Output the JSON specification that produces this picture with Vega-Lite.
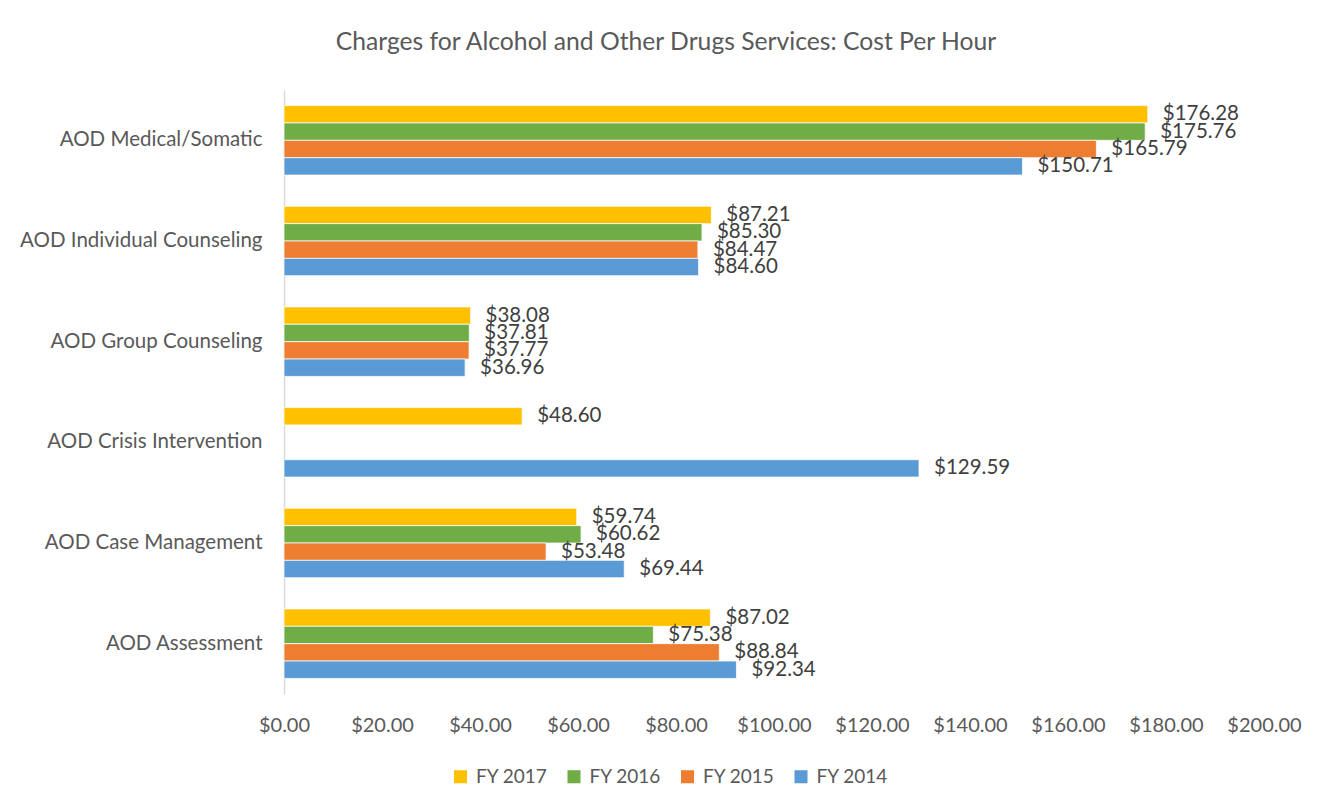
{
  "$schema": "https://vega.github.io/schema/vega-lite/v6.json",
  "width": 980,
  "height": 604,
  "autosize": "none",
  "padding": {"left": 284, "top": 90, "right": 71, "bottom": 118},
  "background": "white",
  "title": {
    "text": "Charges for Alcohol and Other Drugs Services: Cost Per Hour",
    "anchor": "middle",
    "frame": "group",
    "dx": -108,
    "offset": 35,
    "font": "Lato",
    "fontSize": 24.7,
    "fontWeight": "normal",
    "color": "#595959"
  },
  "config": {
    "view": {"stroke": null},
    "font": "Lato"
  },
  "data": {
    "values": [
      {"service": "AOD Medical/Somatic", "year": "FY 2017", "cost": 176.28},
      {"service": "AOD Medical/Somatic", "year": "FY 2016", "cost": 175.76},
      {"service": "AOD Medical/Somatic", "year": "FY 2015", "cost": 165.79},
      {"service": "AOD Medical/Somatic", "year": "FY 2014", "cost": 150.71},
      {"service": "AOD Individual Counseling", "year": "FY 2017", "cost": 87.21},
      {"service": "AOD Individual Counseling", "year": "FY 2016", "cost": 85.30},
      {"service": "AOD Individual Counseling", "year": "FY 2015", "cost": 84.47},
      {"service": "AOD Individual Counseling", "year": "FY 2014", "cost": 84.60},
      {"service": "AOD Group Counseling", "year": "FY 2017", "cost": 38.08},
      {"service": "AOD Group Counseling", "year": "FY 2016", "cost": 37.81},
      {"service": "AOD Group Counseling", "year": "FY 2015", "cost": 37.77},
      {"service": "AOD Group Counseling", "year": "FY 2014", "cost": 36.96},
      {"service": "AOD Crisis Intervention", "year": "FY 2017", "cost": 48.60},
      {"service": "AOD Crisis Intervention", "year": "FY 2014", "cost": 129.59},
      {"service": "AOD Case Management", "year": "FY 2017", "cost": 59.74},
      {"service": "AOD Case Management", "year": "FY 2016", "cost": 60.62},
      {"service": "AOD Case Management", "year": "FY 2015", "cost": 53.48},
      {"service": "AOD Case Management", "year": "FY 2014", "cost": 69.44},
      {"service": "AOD Assessment", "year": "FY 2017", "cost": 87.02},
      {"service": "AOD Assessment", "year": "FY 2016", "cost": 75.38},
      {"service": "AOD Assessment", "year": "FY 2015", "cost": 88.84},
      {"service": "AOD Assessment", "year": "FY 2014", "cost": 92.34}
    ]
  },
  "encoding": {
    "y": {
      "field": "service",
      "type": "nominal",
      "sort": ["AOD Medical/Somatic", "AOD Individual Counseling", "AOD Group Counseling", "AOD Crisis Intervention", "AOD Case Management", "AOD Assessment"],
      "scale": {"paddingInner": 0.31, "paddingOuter": 0.155},
      "axis": {
        "title": null,
        "ticks": false,
        "domain": true,
        "domainColor": "#d9d9d9",
        "domainWidth": 1.5,
        "labelFontSize": 20.5,
        "labelColor": "#595959",
        "labelPadding": 22,
        "labelLimit": 0,
        "labelFont": "Lato"
      }
    },
    "yOffset": {
      "field": "year",
      "type": "nominal",
      "scale": {"domain": ["FY 2017", "FY 2016", "FY 2015", "FY 2014"], "paddingInner": 0, "paddingOuter": 0}
    },
    "x": {
      "field": "cost",
      "type": "quantitative",
      "scale": {"domain": [0, 200], "nice": false},
      "axis": {
        "title": null,
        "values": [0, 20, 40, 60, 80, 100, 120, 140, 160, 180, 200],
        "format": "$.2f",
        "grid": false,
        "domain": false,
        "ticks": false,
        "labelFontSize": 20,
        "labelColor": "#595959",
        "labelPadding": 21,
        "labelOverlap": false,
        "labelFlush": false,
        "labelFont": "Lato"
      }
    }
  },
  "layer": [
    {
      "mark": {"type": "bar", "stroke": "white", "strokeWidth": 0.75},
      "encoding": {
        "color": {
          "field": "year",
          "type": "nominal",
          "scale": {"domain": ["FY 2017", "FY 2016", "FY 2015", "FY 2014"], "range": ["#FFC000", "#70AD47", "#ED7D31", "#5B9BD5"]},
          "legend": {
            "title": null,
            "orient": "none",
            "direction": "horizontal",
            "legendX": 167,
            "legendY": 677,
            "symbolType": "square",
            "symbolSize": 170,
            "symbolStrokeWidth": 0,
            "labelFontSize": 19,
            "labelColor": "#595959",
            "labelFont": "Lato",
            "labelOffset": 6,
            "columnPadding": 16.5
          }
        }
      }
    },
    {
      "mark": {"type": "text", "align": "left", "baseline": "middle", "dx": 15, "fontSize": 20.5, "color": "#404040", "font": "Lato"},
      "encoding": {
        "text": {"field": "cost", "type": "quantitative", "format": "$.2f"}
      }
    }
  ]
}
